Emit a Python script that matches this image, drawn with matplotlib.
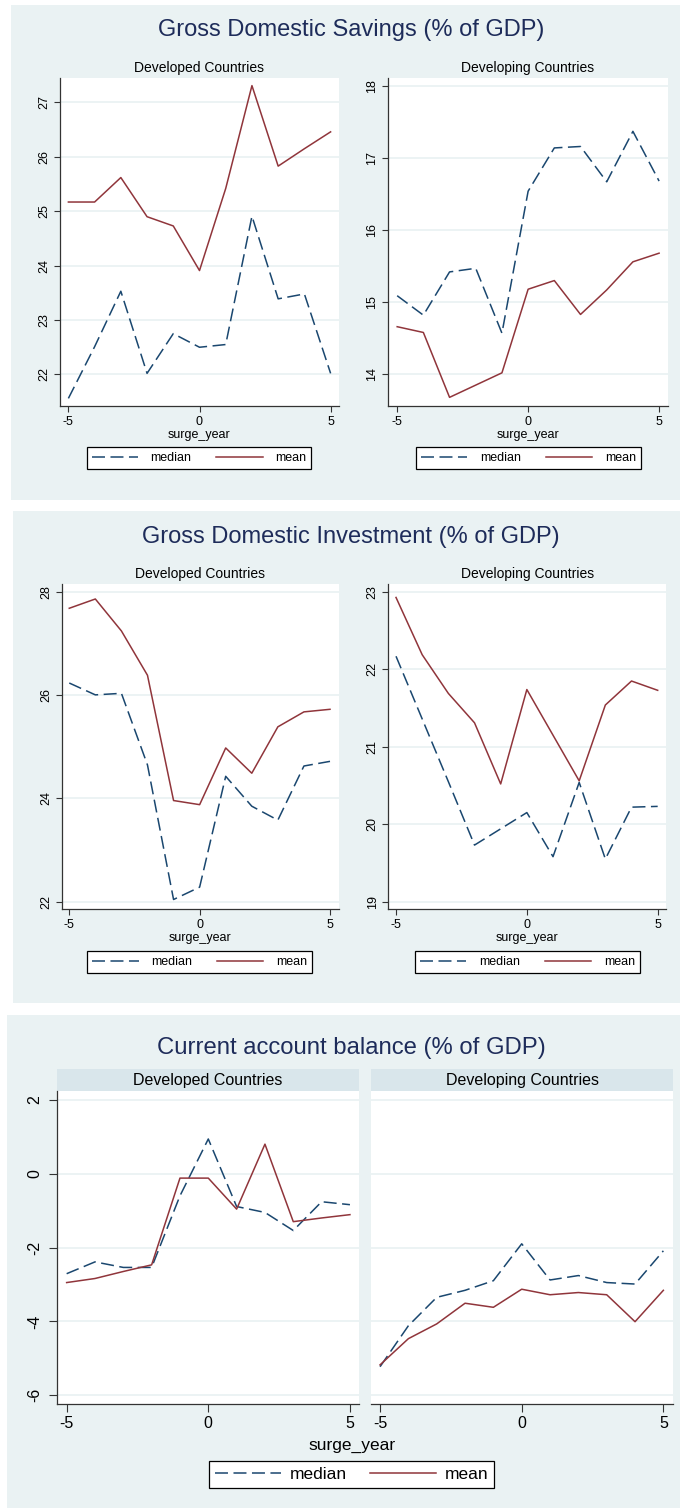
import matplotlib
matplotlib.use('Agg')
import matplotlib.pyplot as plt
from matplotlib.patches import Rectangle

plt.rcParams['font.family'] = ['Liberation Sans', 'DejaVu Sans']

# surge year axis
years = [-5, -4, -3, -2, -1, 0, 1, 2, 3, 4, 5]

# Gross Domestic Savings (% of GDP)
sav_dev_median = [21.56, 22.51, 23.53, 22.02, 22.75, 22.50, 22.55, 24.91, 23.39, 23.48, 22.02]
sav_dev_mean = [25.17, 25.17, 25.62, 24.90, 24.73, 23.91, 25.42, 27.31, 25.83, 26.15, 26.46]
sav_dvg_median = [15.09, 14.82, 15.42, 15.47, 14.57, 16.54, 17.14, 17.16, 16.67, 17.37, 16.68]
sav_dvg_mean = [14.66, 14.58, 13.68, 13.85, 14.02, 15.18, 15.30, 14.83, 15.17, 15.56, 15.68]

# Gross Domestic Investment (% of GDP)
inv_dev_median = [26.24, 26.01, 26.04, 24.65, 22.04, 22.28, 24.43, 23.85, 23.58, 24.63, 24.72]
inv_dev_mean = [27.69, 27.87, 27.25, 26.39, 23.96, 23.88, 24.98, 24.49, 25.39, 25.68, 25.73]
inv_dvg_median = [22.17, 21.36, 20.55, 19.73, 19.94, 20.15, 19.58, 20.54, 19.55, 20.22, 20.23]
inv_dvg_mean = [22.93, 22.19, 21.69, 21.31, 20.52, 21.74, 21.15, 20.56, 21.54, 21.85, 21.73]

# Current account balance (% of GDP)
ca_dev_median = [-2.71, -2.39, -2.54, -2.54, -0.60, 0.94, -0.89, -1.05, -1.54, -0.76, -0.84]
ca_dev_mean = [-2.95, -2.84, -2.65, -2.47, -0.12, -0.12, -0.96, 0.80, -1.30, -1.20, -1.11]
ca_dvg_median = [-5.23, -4.12, -3.35, -3.16, -2.90, -1.90, -2.88, -2.76, -2.95, -2.99, -2.09]
ca_dvg_mean = [-5.18, -4.47, -4.07, -3.51, -3.62, -3.13, -3.28, -3.22, -3.28, -4.01, -3.16]

titles = ['Gross Domestic Savings (% of GDP)',
          'Gross Domestic Investment (% of GDP)',
          'Current account balance (% of GDP)']
groups = ['Developed Countries', 'Developing Countries']
series_labels = ['median', 'mean']
xlabel = 'surge_year'

BG = '#EAF2F3'
STRIP = '#D9E6EB'
NAVY = '#1A476F'
MAROON = '#90353B'
TITLE_C = '#1E2C5A'
AXIS_C = '#333333'

W, H = 680, 1509
fig = plt.figure(figsize=(W / 100, H / 100), dpi=100)


def fx(x):
    return x / W


def fy(y):
    return 1 - y / H


def rect(x0, y0, x1, y1):
    return [x0 / W, 1 - y1 / H, (x1 - x0) / W, (y1 - y0) / H]


def bg_box(x0, y0, x1, y1, color):
    fig.patches.append(Rectangle((fx(x0), fy(y1)), (x1 - x0) / W, (y1 - y0) / H,
                                 transform=fig.transFigure, facecolor=color,
                                 edgecolor='none', zorder=-5))


def draw(box, xlim, ylim, yticks, median, mean, fs, tick_len, pad_x, pad_y,
         left_spine=True, ylabels=True):
    ax = fig.add_axes(rect(*box))
    ax.set_facecolor('white')
    l1, = ax.plot(years, median, color=NAVY, lw=1.1, dashes=(8.5, 3.6))
    l2, = ax.plot(years, mean, color=MAROON, lw=1.1)
    ax.set_xlim(*xlim)
    ax.set_ylim(*ylim)
    ax.set_xticks([-5, 0, 5], labels=['-5', '0', '5'])
    if ylabels:
        ax.set_yticks(yticks, labels=[str(v) for v in yticks], rotation=90, va='center')
    else:
        ax.set_yticks(yticks, labels=[])
    ax.grid(axis='y', color=BG, lw=1.3)
    ax.set_axisbelow(True)
    for s in ['top', 'right']:
        ax.spines[s].set_visible(False)
    ax.spines['left'].set_visible(left_spine)
    for s in ['left', 'bottom']:
        ax.spines[s].set_color(AXIS_C)
        ax.spines[s].set_linewidth(0.9)
    ax.tick_params(axis='x', length=tick_len, width=0.8, color=AXIS_C,
                   labelsize=fs, pad=pad_x)
    ax.tick_params(axis='y', length=tick_len if ylabels else 0, width=0.8,
                   color=AXIS_C, labelsize=fs, pad=pad_y)
    return l1, l2


def legend(handles, cx, ytop, fs, hl, htp, cs, bp):
    lg = fig.legend(handles, series_labels, loc='upper center',
                    bbox_to_anchor=(fx(cx), fy(ytop)), bbox_transform=fig.transFigure,
                    ncol=2, fontsize=fs, frameon=True, fancybox=False, framealpha=1,
                    edgecolor='black', handlelength=hl, handletextpad=htp,
                    columnspacing=cs, borderpad=bp, borderaxespad=0)
    lg.get_frame().set_linewidth(0.9)


# backgrounds
bg_box(10.5, 5, 680, 500, BG)
bg_box(13, 511, 680, 1003, BG)
bg_box(7, 1015, 680, 1508, BG)

# ---- Panel 1: savings
fig.text(fx(351), fy(30), titles[0], fontsize=17, color=TITLE_C, ha='center', va='center')
h = draw((60, 78, 339, 406), (-5.32, 5.32), (21.42, 27.45), [22, 23, 24, 25, 26, 27],
         sav_dev_median, sav_dev_mean, 9, 4, 3.2, 2.9)
fig.text(fx(199), fy(68), groups[0], fontsize=10, ha='center', va='center')
fig.text(fx(199), fy(434.6), xlabel, fontsize=9, ha='center', va='center')
legend(h, 199, 447, 9, 3.7, 1.0, 2.0, 0.4)

h = draw((388, 78, 668, 406), (-5.35, 5.34), (13.56, 18.11), [14, 15, 16, 17, 18],
         sav_dvg_median, sav_dvg_mean, 9, 4, 3.2, 2.9)
fig.text(fx(528), fy(68), groups[1], fontsize=10, ha='center', va='center')
fig.text(fx(528.3), fy(434.6), xlabel, fontsize=9, ha='center', va='center')
legend(h, 528.5, 447, 9, 3.7, 1.0, 2.0, 0.4)

# ---- Panel 2: investment
fig.text(fx(351), fy(537), titles[1], fontsize=17, color=TITLE_C, ha='center', va='center')
h = draw((61.7, 584.3, 339, 909.3), (-5.29, 5.345), (21.85, 28.155), [22, 24, 26, 28],
         inv_dev_median, inv_dev_mean, 9, 4, 3.2, 2.9)
fig.text(fx(200), fy(574.3), groups[0], fontsize=10, ha='center', va='center')
fig.text(fx(200), fy(938), xlabel, fontsize=9, ha='center', va='center')
legend(h, 199.8, 951, 9, 3.7, 1.0, 2.0, 0.4)

h = draw((388.3, 584.3, 666, 909.3), (-5.295, 5.318), (18.9, 23.1), [19, 20, 21, 22, 23],
         inv_dvg_median, inv_dvg_mean, 9, 4, 3.2, 2.9)
fig.text(fx(527.5), fy(574.3), groups[1], fontsize=10, ha='center', va='center')
fig.text(fx(527.5), fy(938), xlabel, fontsize=9, ha='center', va='center')
legend(h, 527.5, 951, 9, 3.7, 1.0, 2.0, 0.4)

# ---- Panel 3: current account (by-graph with strips)
fig.text(fx(351), fy(1047.7), titles[2], fontsize=17.2, color=TITLE_C, ha='center', va='center')
bg_box(57.3, 1069.3, 359, 1091, STRIP)
bg_box(370.7, 1069.3, 673, 1091, STRIP)
fig.text(fx(208), fy(1080), groups[0], fontsize=11.5, ha='center', va='center')
fig.text(fx(522), fy(1080), groups[1], fontsize=11.5, ha='center', va='center')
h = draw((57.3, 1091, 359, 1404), (-5.33, 5.32), (-6.24, 2.24), [-6, -4, -2, 0, 2],
         ca_dev_median, ca_dev_mean, 11.5, 5.5, 3.5, 5.3)
draw((370.7, 1091, 673, 1404), (-5.33, 5.34), (-6.24, 2.24), [-6, -4, -2, 0, 2],
     ca_dvg_median, ca_dvg_mean, 11.5, 5.5, 3.5, 5.3, left_spine=False, ylabels=False)
fig.text(fx(352), fy(1445.7), xlabel, fontsize=12.5, ha='center', va='center')
legend(h, 351.5, 1460.7, 12.5, 3.8, 0.5, 1.35, 0.34)

fig.savefig('out.png', dpi=100, facecolor='white')
